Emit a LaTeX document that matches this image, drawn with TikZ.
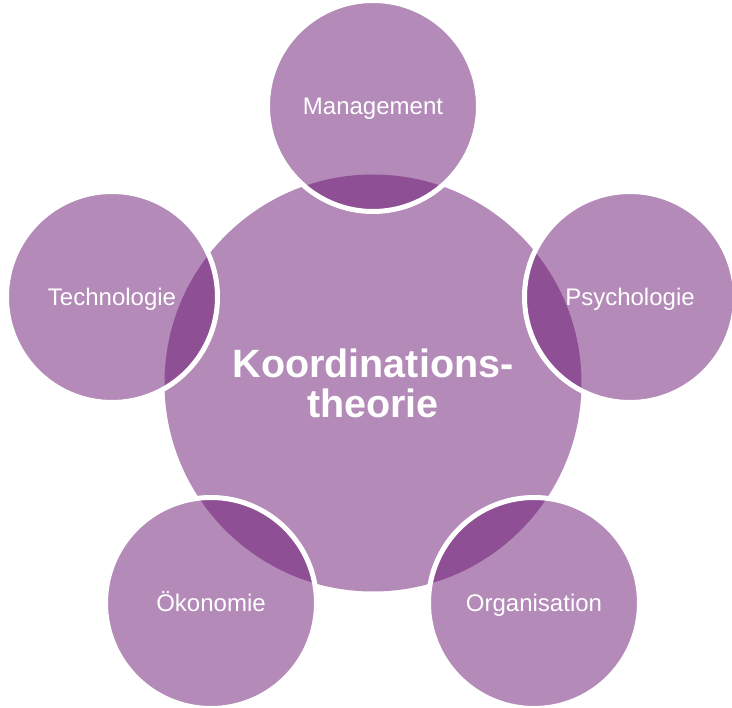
\documentclass[tikz,border=0pt]{standalone}
\usepackage{fontspec}
\setmainfont{Liberation Sans}
\definecolor{lightpurple}{RGB}{180,138,185}
\definecolor{darkpurple}{RGB}{142,79,148}
\begin{document}
\begin{tikzpicture}[x=1pt,y=-1pt,
  corecircle/.style={circle, fill=lightpurple, minimum size=417pt, inner sep=0pt,
    align=center, text=white, font=\bfseries\fontsize{39.5}{40}\selectfont},
  outer/.style={circle, fill=lightpurple, draw=white, line width=5pt,
    minimum size=211pt, inner sep=0pt, text=white,
    text height=17pt, text depth=0pt,
    font=\fontsize{24}{28}\selectfont,
    path picture={\fill[darkpurple] (core.center) circle (208.5pt);}}]
\useasboundingbox (0,0) rectangle (732,708);
\node[corecircle] (core) at (373,383) {Koordinations-\\theorie};
\node[outer] (man) at (373,106) {Management};
\node[outer] (tech) at (112,297) {Technologie};
\node[outer] (psy) at (630,297) {Psychologie};
\node[outer] (oek) at (211,603) {Ökonomie};
\node[outer] (org) at (534,603) {Organisation};
\end{tikzpicture}
\end{document}
